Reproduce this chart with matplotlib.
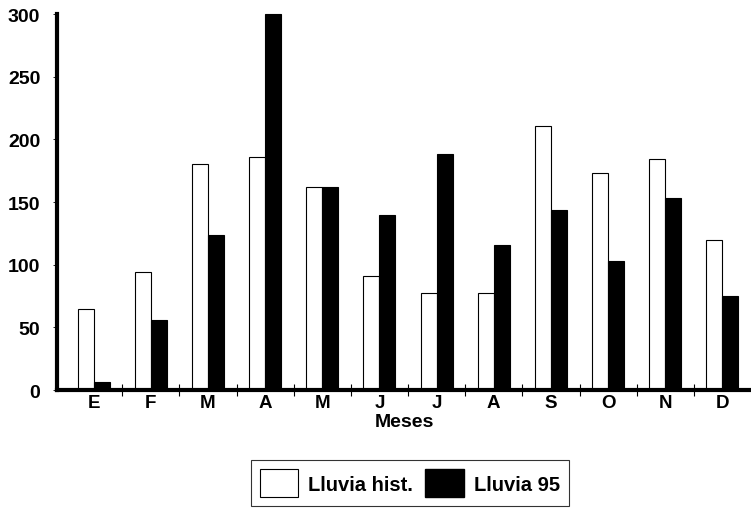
import matplotlib
matplotlib.use("Agg")
import matplotlib.pyplot as plt
import numpy as np
from matplotlib.patches import Patch

months = ["E", "F", "M", "A", "M", "J", "J", "A", "S", "O", "N", "D"]
lluvia_hist = [65, 94, 180, 186, 162, 91, 77, 77, 211, 173, 184, 120]
lluvia_95 = [6, 56, 124, 300, 162, 140, 188, 116, 144, 103, 153, 75]
yticks = [0, 50, 100, 150, 200, 250, 300]

plt.rcParams['font.family'] = ['Liberation Sans', 'DejaVu Sans']

fig = plt.figure(figsize=(7.51, 5.10), dpi=100)
ax = fig.add_axes([57/751, 1-391/510, 1-57/751, (391-15)/510])

x = np.arange(len(months))
w = 0.28
ax.bar(x - w/2, lluvia_hist, width=w, color="white", edgecolor="black", linewidth=0.8, zorder=2)
ax.bar(x + w/2, lluvia_95, width=w, color="black", edgecolor="black", linewidth=0.8, zorder=2, clip_on=False)

ax.set_xlim(-0.64, 11.5)
ax.set_ylim(0, 300)
ax.set_yticks(yticks)
ax.set_yticklabels([str(v) for v in yticks], fontsize=14, fontweight="bold")
ax.tick_params(axis="y", length=3, width=0.6, direction="out", pad=9)

ax.set_xticks(x)
ax.set_xticklabels(months, fontsize=13.5, fontweight="bold")
ax.set_xticks(x[:-1] + 0.5, minor=True)
ax.tick_params(axis="x", which="major", length=0, pad=3)
ax.tick_params(axis="x", which="minor", length=8, direction="inout", width=0.8)
ax.set_xlabel("Meses", fontsize=14, fontweight="bold", labelpad=1)

for s in ["top", "right"]:
    ax.spines[s].set_visible(False)
ax.spines["left"].set_linewidth(3)
ax.spines["bottom"].set_linewidth(3)

handles = [Patch(facecolor="white", edgecolor="black", linewidth=0.8, label="Lluvia hist."),
           Patch(facecolor="black", edgecolor="black", label="Lluvia 95")]
leg = fig.legend(handles=handles, loc="center", bbox_to_anchor=(410/751, 1-484/510), ncol=2,
                 prop={"weight": "bold", "size": 14.5}, frameon=True, fancybox=False,
                 edgecolor="black", handlelength=1.9, handleheight=1.75, columnspacing=0.6,
                 handletextpad=0.5, borderpad=0.45)
leg.get_frame().set_linewidth(0.8)

fig.savefig("out.png", dpi=100)
